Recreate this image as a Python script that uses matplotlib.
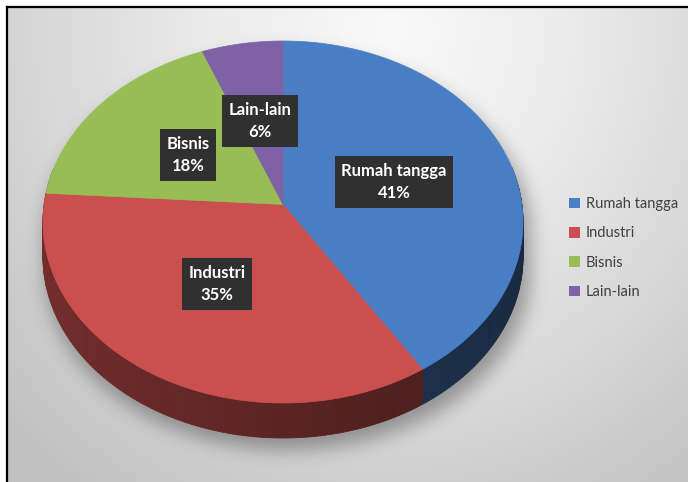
import numpy as np
import matplotlib.pyplot as plt
from matplotlib.patches import Polygon, Patch

categories = ["Rumah tangga", "Industri", "Bisnis", "Lain-lain"]
shares = [41, 35, 18, 6]
colors = ["#4a7ec4", "#c9504e", "#98bd55", "#7f62a6"]

# label box centres (pixels)
label_pos = [(394, 182), (217, 284), (188, 155), (260, 121)]

W, H = 688, 482
fig = plt.figure(figsize=(W / 100, H / 100), dpi=100)
ax = fig.add_axes([0, 0, 1, 1])
ax.set_xlim(0, W)
ax.set_ylim(H, 0)
ax.axis("off")

# chart area background: soft radial grey gradient
yy, xx = np.mgrid[0:H, 0:W] + 0.5
r = np.sqrt(((xx - 390) / 430) ** 2 + ((yy - 30) / 470) ** 2)
shade = 0.975 - 0.17 * np.clip(r, 0, 1.2) ** 1.3
bg = np.dstack([shade, shade, shade])
ax.imshow(bg, extent=[0, W, H, 0], zorder=0, interpolation="bilinear")

# pie geometry: tilted disc seen in perspective
cx, top, bottom = 283, 41, 403
half_w = 240
depth = 35
k = 0.097
y_far, y_near = 1 / (1 + k), -1 / (1 - k)
sy = (bottom - top) / (y_far - y_near)
sx = half_w * np.sqrt(1 - k * k)


def rim(theta, drop=0.0):
    u, v = np.sin(theta), np.cos(theta)
    w = 1 + k * v
    return cx + sx * u / w, top + sy * (y_far - v / w) + drop


centre = (cx, top + sy * y_far)

# soft drop shadow under the disc
ecx, ecy, erx, ery = cx + 5, (top + bottom) / 2 + 12, half_w + 3, (bottom - top) / 2
dy = yy - ecy
t = dy - np.clip(dy, 0, depth)
mask = (((xx - ecx) / erx) ** 2 + (t / ery) ** 2 <= 1).astype(float)
kern = np.exp(-0.5 * (np.arange(-30, 31) / 9.0) ** 2)
kern /= kern.sum()
blur = np.apply_along_axis(lambda m: np.convolve(m, kern, mode="same"), 1, mask)
blur = np.apply_along_axis(lambda m: np.convolve(m, kern, mode="same"), 0, blur)
shadow = np.zeros((H, W, 4))
shadow[..., 3] = 0.32 * blur
ax.imshow(shadow, extent=[0, W, H, 0], zorder=1, interpolation="bilinear")

bounds = np.concatenate([[0], np.cumsum(shares)]) / sum(shares) * 2 * np.pi

# side walls, shaded by direction
for i, c in enumerate(colors):
    base = np.array(plt.matplotlib.colors.to_rgb(c))
    th = np.linspace(bounds[i], bounds[i + 1], max(3, int(np.degrees(bounds[i + 1] - bounds[i]))))
    for a0, a1 in zip(th[:-1], th[1:]):
        if np.cos(a0) > 0.2 and np.cos(a1) > 0.2:
            continue
        f = 0.45 - 0.12 * np.sin((a0 + a1) / 2)
        col = np.clip(base * f, 0, 1)
        x0, y0 = rim(a0)
        x1, y1 = rim(a1)
        ax.add_patch(Polygon([(x0, y0), (x1, y1), (x1, y1 + depth), (x0, y0 + depth)],
                             closed=True, fc=col, ec=col, lw=0.6, zorder=2))

# top faces
for i, c in enumerate(colors):
    th = np.linspace(bounds[i], bounds[i + 1], 200)
    xs, ys = rim(th)
    pts = np.vstack([[centre], np.column_stack([xs, ys])])
    ax.add_patch(Polygon(pts, closed=True, fc=c, ec=c, lw=0.5, zorder=3))

# data labels
for name, val, (lx, ly) in zip(categories, shares, label_pos):
    ax.text(lx, ly, f"{name}\n{val}%", ha="center", va="center",
            fontsize=12, family="Lato", weight="bold", color="white", linespacing=1.5,
            bbox=dict(boxstyle="square,pad=0.4", fc="#303030", ec="none"), zorder=5)

# legend
handles = [Patch(fc=c, ec="none") for c in colors]
fig.legend(handles, categories, loc="center left", bbox_to_anchor=(556 / W, 1 - 248 / H),
           frameon=False, prop={"family": "Lato", "size": 10.5}, labelcolor="#404040",
           handlelength=0.75, handleheight=0.75, handletextpad=0.4, labelspacing=1.05)

# frame lines on top and left
ax.plot([7, 7], [H, 7], color="black", lw=1.6, zorder=6, solid_capstyle="projecting")
ax.plot([7, W], [7, 7], color="black", lw=1.6, zorder=6, solid_capstyle="projecting")
ax.fill_between([0, W], 0, 6.2, color="white", zorder=5.5)
ax.fill_between([0, 6.2], 0, H, color="white", zorder=5.5)

fig.savefig("out.png", dpi=100, facecolor="white")
